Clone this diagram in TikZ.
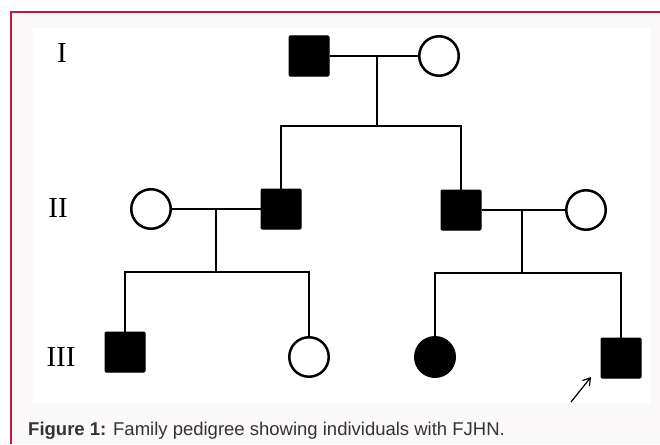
\documentclass[tikz,border=0pt]{standalone}
\usepackage{fontspec}
\setmainfont{Liberation Serif}
\newfontfamily\capfont{Liberation Sans}
\usetikzlibrary{arrows.meta}
\definecolor{myred}{RGB}{200,22,60}
\definecolor{mypanel}{RGB}{251,248,249}
\definecolor{mygray}{RGB}{51,51,51}

\begin{document}
\begin{tikzpicture}[x=1pt,y=-1pt,
  male/.style={draw,fill=black,line width=1pt,minimum size=40pt,inner sep=0pt,rounded corners=1pt},
  female/.style={draw,circle,line width=2.5pt,minimum size=39.5pt,inner sep=0pt},
  link/.style={line width=2.8pt},
  gen/.style={font=\fontsize{29}{29}\selectfont,inner sep=0pt}]

\useasboundingbox (0,0) rectangle (660,444);

% marco
\fill[mypanel] (11,12) rectangle (660,444);
\fill[white] (33,28) rectangle (650,403);
\draw[myred,line width=2pt] (11,444) -- (11,12) -- (660,12);

% generaciones
\node[gen] (gI) at (62,53) {I};
\node[gen] (gII) at (58,208) {II};
\node[gen] (gIII) at (61,357) {III};

% generacion I
\node[male] (sqI) at (309,56) {};
\node[female] (cI) at (439,56) {};

% generacion II
\node[female] (cIIa) at (151,209) {};
\node[male] (sqIIa) at (281,209) {};
\node[male] (sqIIb) at (461,210) {};
\node[female] (cIIb) at (586,210) {};

% generacion III
\node[male] (sqIIIa) at (125,352) {};
\node[female] (cIIIa) at (309,357) {};
\node[female,fill=black] (cIIIb) at (435,357) {};
\node[male] (sqIIIb) at (621,358) {};

% lineas
\coordinate (mI) at (377,56);
\coordinate (sibI) at (377,126);
\draw[link] (sqI) -- (cI);
\draw[link] (mI) -- (sibI);
\draw[link] (sqIIa.north) |- (sibI) -| (sqIIb.north);

\coordinate (mIIa) at (216,209);
\coordinate (sibIIa) at (216,272);
\draw[link] (cIIa) -- (sqIIa);
\draw[link] (mIIa) -- (sibIIa);
\draw[link] (sqIIIa.north) |- (sibIIa) -| (cIIIa.north);

\coordinate (mIIb) at (522,210);
\coordinate (sibIIb) at (522,273);
\draw[link] (sqIIb) -- (cIIb);
\draw[link] (mIIb) -- (sibIIb);
\draw[link] (cIIIb.north) |- (sibIIb) -| (sqIIIb.north);

% probando
\coordinate (arrS) at (571,402);
\coordinate (arrE) at (591,377);
\draw[line width=1.2pt,-{Straight Barb[length=7pt,width=9pt]}] (arrS) -- (arrE);

% leyenda
\node[anchor=base west,font=\capfont\fontsize{18.5}{20}\selectfont,text=mygray,inner sep=0pt] (cap) at (28,435)
  {\textbf{Figure 1:} Family pedigree showing individuals with FJHN.};

\end{tikzpicture}
\end{document}
